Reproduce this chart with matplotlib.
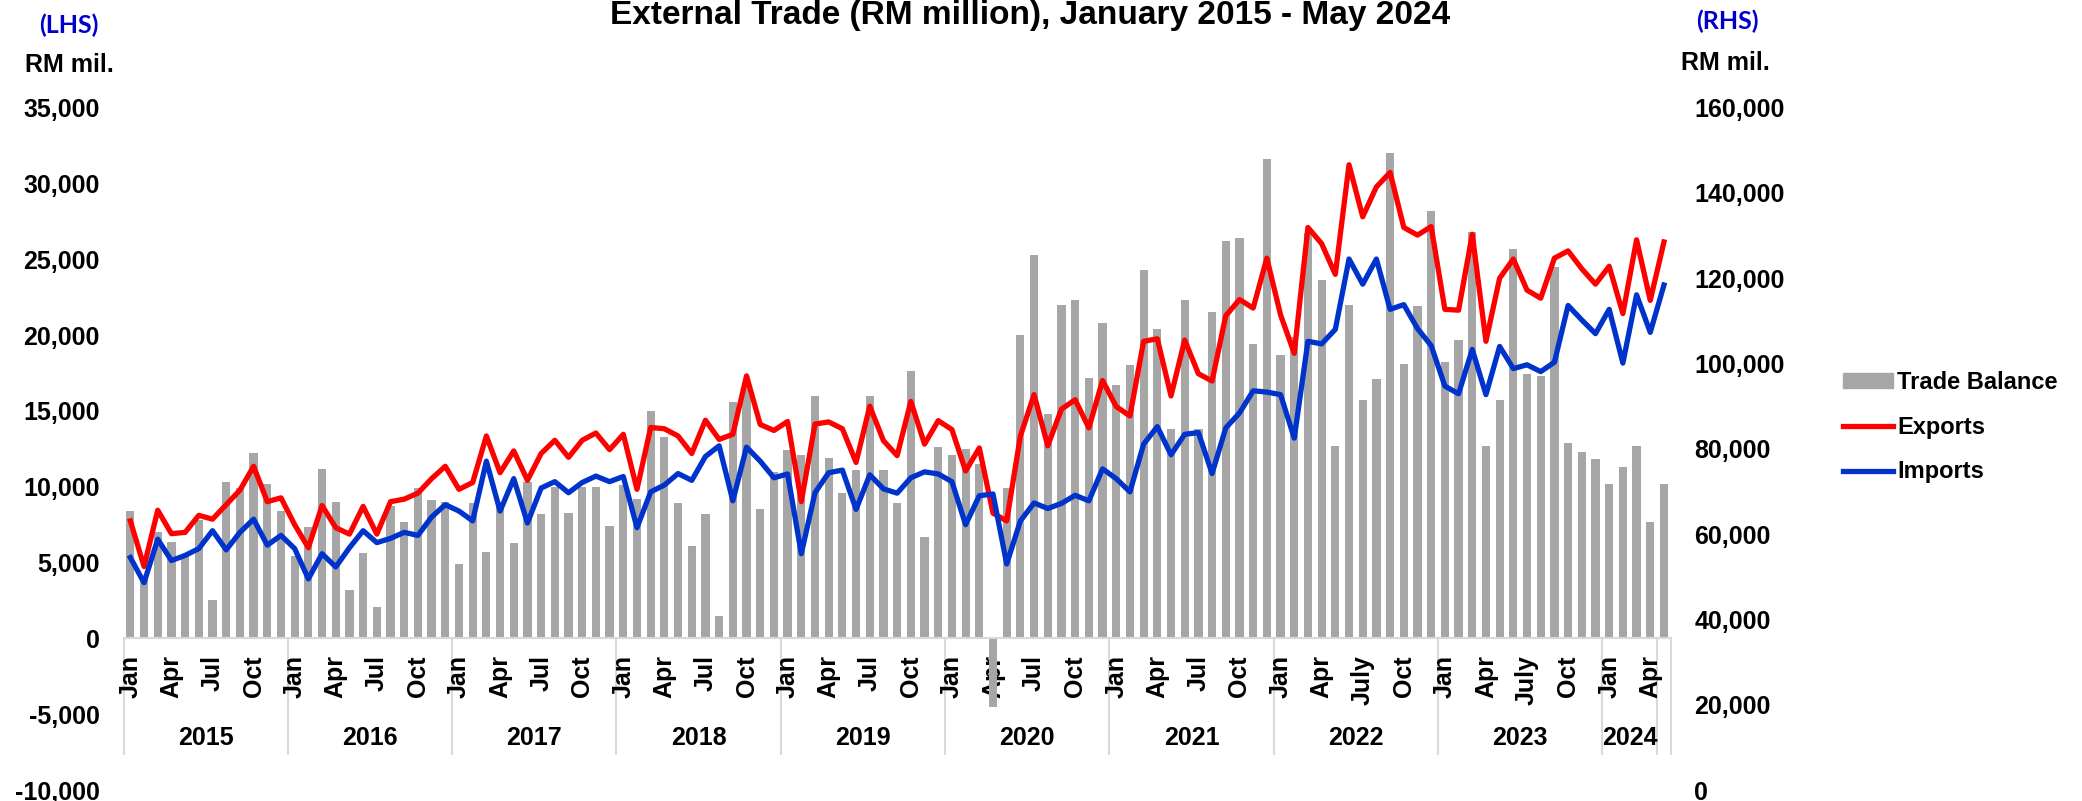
import matplotlib
matplotlib.use('Agg')
import matplotlib.pyplot as plt
from matplotlib.patches import Patch
from matplotlib.lines import Line2D
from matplotlib.ticker import FuncFormatter, MultipleLocator
import numpy as np

# Malaysia external trade, monthly, Jan 2015 - May 2024 (RM million)
years = [2015, 2016, 2017, 2018, 2019, 2020, 2021, 2022, 2023, 2024]
months_in_year = [12, 12, 12, 12, 12, 12, 12, 12, 12, 5]
month_names = ['Jan', 'Feb', 'Mar', 'Apr', 'May', 'Jun', 'Jul', 'Aug', 'Sep', 'Oct', 'Nov', 'Dec']
shown_months = ['Jan', 'Apr', 'Jul', 'Oct']
july_years = [2022, 2023]  # these years say "July" on the axis

# year groups on the category axis (May 2024 sits in its own unlabelled group)
group_labels = ['2015', '2016', '2017', '2018', '2019', '2020', '2021', '2022', '2023', '2024', '']
group_sizes = [12, 12, 12, 12, 12, 12, 12, 12, 12, 4, 1]

trade_balance = [
    8400, 4000, 7000, 6350, 5400, 7800, 2500, 10300, 9900, 12200, 10200, 8400,      # 2015
    5400, 7350, 11200, 9000, 3200, 5600, 2100, 8700, 7700, 9900, 9100, 9000,        # 2016
    4900, 8900, 5700, 9000, 6300, 10300, 8200, 10000, 8250, 10000, 10000, 7400,     # 2017
    10100, 9200, 15000, 13300, 8900, 6100, 8200, 1500, 15600, 16700, 8500, 11000,   # 2018
    12400, 12100, 16000, 11900, 9600, 11100, 16000, 11100, 8900, 17600, 6700, 12600,  # 2019
    12100, 12500, 11500, -4500, 9900, 20000, 25300, 14800, 22000, 22300, 17200, 20800,  # 2020
    16700, 18000, 24300, 20400, 13800, 22300, 13800, 21500, 26200, 26400, 19400, 31600,  # 2021
    18700, 19900, 26700, 23600, 12700, 22000, 15700, 17100, 32000, 18100, 21900, 28200,  # 2022
    18200, 19700, 26800, 12700, 15700, 25700, 17400, 17300, 24500, 12900, 12300, 11800,  # 2023
    10200, 11300, 12700, 7700, 10200,                                                # 2024
]

exports = [
    63100, 52400, 65600, 60100, 60400, 64400, 63500, 66900, 70300, 75900, 67600, 68500,
    62200, 56800, 66700, 61500, 60000, 66500, 60000, 67600, 68200, 69600, 73000, 75900,
    70500, 72100, 83000, 74400, 79500, 72600, 78900, 82000, 78000, 82000, 83700, 79800,
    83400, 70500, 85000, 84700, 83000, 78900, 86700, 82200, 83400, 97100, 85700, 84300,
    86400, 67600, 85800, 86300, 84700, 76800, 90000, 81900, 78400, 91100, 81100, 86600,
    84500, 74800, 80200, 64900, 63100, 83000, 92700, 80700, 89300, 91500, 84900, 96000,
    89900, 87700, 105200, 105800, 92400, 105500, 97600, 95900, 111200, 115000, 113000, 124700,
    111400, 102400, 131900, 128100, 120900, 146600, 134400, 141400, 144800, 131900, 130100, 132100,
    112700, 112500, 130300, 105200, 120000, 124500, 117200, 115300, 124700, 126400, 122200, 118600,
    122800, 111700, 129000, 114800, 128500,
]

imports = [
    54500, 48600, 58800, 53800, 55000, 56600, 60800, 56300, 60400, 63500, 57400, 59700,
    56600, 49500, 55400, 52300, 56800, 60800, 58000, 59000, 60400, 59700, 64000, 66900,
    65400, 63100, 77100, 65400, 73000, 62600, 70800, 72300, 69700, 72100, 73600, 72300,
    73500, 61500, 69900, 71500, 74200, 72600, 78200, 80700, 67800, 80400, 77100, 73200,
    74100, 55400, 69700, 74400, 75000, 65800, 73900, 70600, 69600, 73200, 74600, 74100,
    72300, 62200, 69000, 69400, 53000, 63100, 67300, 66000, 67200, 69100, 67800, 75300,
    73000, 69900, 81100, 85200, 78600, 83400, 83800, 74200, 84900, 88400, 93600, 93300,
    92700, 82500, 105200, 104600, 108000, 124500, 118600, 124500, 112700, 113800, 108200, 104200,
    94700, 92900, 103300, 92700, 104000, 98800, 99700, 98100, 100300, 113600, 110200, 107000,
    112700, 100100, 116100, 107300, 118400,
]

plt.rcParams['font.family'] = ['Liberation Sans', 'DejaVu Sans']
plt.rcParams['font.weight'] = 'bold'

bar_color = '#a6a6a6'
exp_color = '#ff0000'
imp_color = '#0033cc'
axis_gray = '#d9d9d9'
fs = 18

x = np.arange(len(exports))

# month tick labels (only Jan/Apr/Jul/Oct are written)
tick_pos = []
tick_lab = []
i = 0
for yr, n in zip(years, months_in_year):
    for m in range(n):
        name = month_names[m]
        if name in shown_months:
            tick_pos.append(i)
            if name == 'Jul' and yr in july_years:
                tick_lab.append('July')
            else:
                tick_lab.append(name)
        i += 1

fig = plt.figure(figsize=(20.82, 8.01), dpi=100)
ax = fig.add_axes([123.5 / 2082, 11 / 801, (1670.8 - 123.5) / 2082, (790 - 107.6) / 801])

ax.bar(x, trade_balance, width=0.6, color=bar_color, zorder=2)
ax.set_xlim(-0.5, len(x) - 0.5)
ax.set_ylim(-10000, 35000)
ax.yaxis.set_major_locator(MultipleLocator(5000))
ax.yaxis.set_major_formatter(FuncFormatter(lambda v, p: f'{v:,.0f}'))

for side in ['top', 'left', 'right']:
    ax.spines[side].set_visible(False)
ax.spines['bottom'].set_position(('data', 0))
ax.spines['bottom'].set_color(axis_gray)
ax.spines['bottom'].set_linewidth(1.5)

ax.set_xticks(tick_pos)
ax.set_xticklabels(tick_lab, rotation=90, fontsize=fs, fontweight='bold')
ax.tick_params(axis='x', length=0, pad=12)
ax.tick_params(axis='y', length=0, pad=17, labelsize=fs)

# year grouping under the month labels
edges = np.concatenate([[0], np.cumsum(group_sizes)]) - 0.5
for e in edges:
    ax.plot([e, e], [0, -7650], color=axis_gray, lw=1.5, clip_on=False, zorder=1)
for lab, start, size in zip(group_labels, edges[:-1], group_sizes):
    ax.text(start + size / 2, -6600, lab, ha='center', va='center',
            fontsize=fs, fontweight='bold')

# exports / imports on the right axis
ax2 = ax.twinx()
ax2.plot(x, exports, color=exp_color, lw=3.8, solid_joinstyle='round')
ax2.plot(x, imports, color=imp_color, lw=3.8, solid_joinstyle='round')
ax2.set_ylim(0, 160000)
ax2.yaxis.set_major_locator(MultipleLocator(20000))
ax2.yaxis.set_major_formatter(FuncFormatter(lambda v, p: f'{v:,.0f}'))
for side in ['top', 'left', 'right', 'bottom']:
    ax2.spines[side].set_visible(False)
ax2.tick_params(axis='y', length=0, pad=17, labelsize=fs)

for lab in ax.get_yticklabels() + ax2.get_yticklabels():
    lab.set_fontweight('bold')

handles = [Patch(color=bar_color), Line2D([], [], color=exp_color, lw=3.8),
           Line2D([], [], color=imp_color, lw=3.8)]
fig.legend(handles, ['Trade Balance', 'Exports', 'Imports'], loc='upper left',
           bbox_to_anchor=(1843 / 2082, 1 - 371 / 801), frameon=False,
           prop={'size': 17, 'weight': 'bold'}, handlelength=2.1, handleheight=0.6,
           handletextpad=0.2, labelspacing=0.92, borderpad=0, borderaxespad=0)

# title sits right at the top edge, as in the source chart
fig.text(1030 / 2082, 1 - 24 / 801, 'External Trade (RM million), January 2015 - May 2024',
         ha='center', va='baseline', fontsize=24, fontweight='bold')
fig.text(69 / 2082, 1 - 25 / 801, '(LHS)', ha='center', va='center', color='#0000cc',
         fontsize=18, fontweight='bold', family=['Lato', 'DejaVu Sans'])
fig.text(1727 / 2082, 1 - 21 / 801, '(RHS)', ha='center', va='center', color='#0000cc',
         fontsize=18, fontweight='bold', family=['Lato', 'DejaVu Sans'])
fig.text(69 / 2082, 1 - 65 / 801, 'RM mil.', ha='center', va='center', fontsize=fs, fontweight='bold')
fig.text(1725 / 2082, 1 - 63 / 801, 'RM mil.', ha='center', va='center', fontsize=fs, fontweight='bold')

fig.savefig('out.png', dpi=100)
